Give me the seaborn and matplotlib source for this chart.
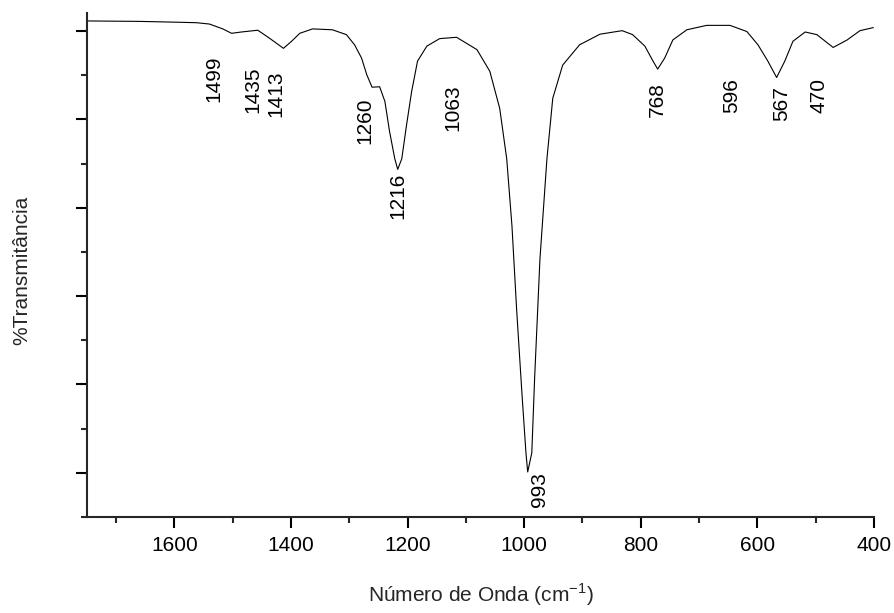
import pandas as pd
import matplotlib.pyplot as plt
from matplotlib.ticker import MultipleLocator, NullFormatter
import seaborn as sns

# ----------------------
# 1. dados lidos do espectro (número de onda, %T em unidades arbitrárias)
# ----------------------
numero_onda = [1749, 1660, 1591, 1562, 1540, 1517, 1502, 1485, 1457, 1437, 1413,
               1399, 1385, 1363, 1329, 1305, 1291, 1279, 1270, 1261, 1248,
               1239, 1231, 1222, 1217, 1210, 1202, 1193, 1183, 1167, 1145,
               1116, 1111, 1081, 1059, 1042, 1030, 1021, 1013, 1004, 997,
               994, 987, 982, 973, 961, 951, 934, 905, 870, 832,
               814, 793, 779, 771, 759, 745, 721, 687, 647, 618,
               599, 582, 567, 553, 539, 518, 498, 470, 446, 424, 401]
transmitancia = [112.3, 112.2, 112.0, 111.9, 111.6, 110.5, 109.5, 109.8, 110.2, 108.4, 106.1,
                 107.7, 109.5, 110.5, 110.3, 109.2, 106.9, 103.9, 100.1, 97.3, 97.4,
                 94.1, 87.3, 81.1, 78.7, 81.1, 88.6, 96.4, 103.2, 106.6, 108.3,
                 108.6, 108.2, 105.8, 100.9, 92.5, 81.1, 65.9, 47.0, 28.2, 14.5,
                 10.2, 14.5, 31.8, 58.4, 81.1, 94.8, 102.3, 106.9, 109.3, 110.1,
                 109.2, 106.6, 103.2, 101.4, 103.9, 108.0, 110.3, 111.3, 111.3, 109.9,
                 106.9, 103.2, 99.5, 103.2, 107.7, 109.8, 109.2, 106.3, 108.0, 110.1, 110.8]

# rótulos das bandas e onde ficam os textos
picos = ["1499", "1435", "1413", "1260", "1216", "1063", "993", "768", "596", "567", "470"]
rotulo_x = [1533, 1466, 1426, 1274, 1216, 1123, 973, 772, 644, 558, 494]
rotulo_y = [99.3, 96.8, 95.9, 89.8, 72.7, 92.7, 6.1, 94.5, 95.5, 93.6, 95.5]

df = pd.DataFrame({"onda": numero_onda, "T": transmitancia})

# ----------------------
# 2. estilo
# ----------------------
sns.set_theme(style="ticks")
plt.rcParams["font.family"] = ["Liberation Sans", "DejaVu Sans"]
plt.rcParams["mathtext.fontset"] = "custom"
plt.rcParams["mathtext.rm"] = "Liberation Sans"

fig = plt.figure(figsize=(8.95, 6.13), dpi=100)
ax = fig.add_axes([0.0972, 0.1566, 0.8793, 0.8222])

# ----------------------
# 3. espectro
# ----------------------
sns.lineplot(data=df, x="onda", y="T", ax=ax, color="black",
             linewidth=0.8, estimator=None, sort=False)

for txt, xx, yy in zip(picos, rotulo_x, rotulo_y):
    ax.text(xx, yy, txt, rotation=90, ha="center", va="center",
            fontsize=15, color="black")

# ----------------------
# 4. eixos
# ----------------------
ax.set_xlim(1750, 400)
ax.set_ylim(0, 114.1)
ax.xaxis.set_major_locator(MultipleLocator(200))
ax.xaxis.set_minor_locator(MultipleLocator(100))
ax.yaxis.set_major_locator(MultipleLocator(20, offset=10))
ax.yaxis.set_minor_locator(MultipleLocator(20))
ax.yaxis.set_major_formatter(NullFormatter())

sns.despine(ax=ax)
for s in ["left", "bottom"]:
    ax.spines[s].set_linewidth(1.5)
ax.tick_params(axis="both", which="major", length=8, width=1.5,
               labelsize=15, colors="black", pad=6)
ax.tick_params(axis="both", which="minor", length=4, width=1.5)

ax.set_xlabel("Número de Onda (cm$^{-1}$)", fontsize=15)
ax.set_ylabel("%Transmitância", fontsize=15)
ax.xaxis.set_label_coords(0.5, -0.155)
ax.yaxis.set_label_coords(-0.083, 0.49)
ax.xaxis.label.set_va("center")
ax.yaxis.label.set_va("center")

plt.savefig("out.png", dpi=100)
plt.close()
